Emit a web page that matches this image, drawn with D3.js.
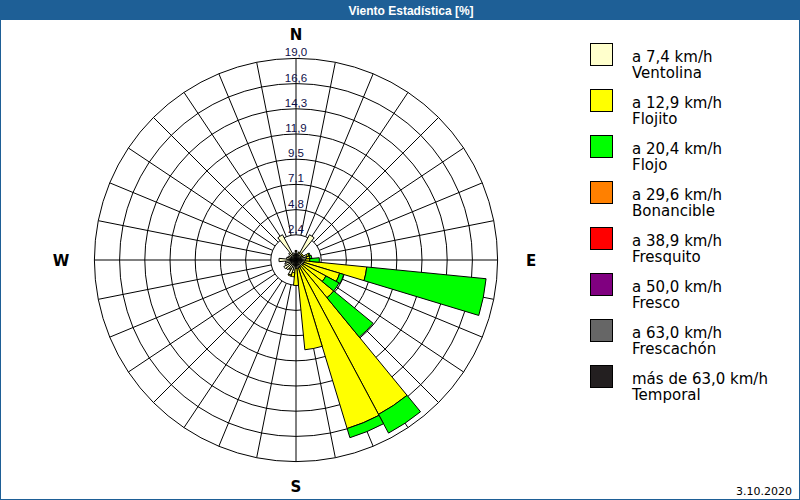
<!DOCTYPE html>
<html><head><meta charset="utf-8">
<script src="https://cdn.jsdelivr.net/npm/d3@7"></script>
<style>body{margin:0;background:#fff}svg{display:block}</style>
</head><body><svg id="c" width="800" height="500"></svg>
<script>
// 32 compass directions, clockwise from North
const directions = ["N","NbE","NNE","NEbN","NE","NEbE","ENE","EbN","E","EbS","ESE","SEbE","SE","SEbS","SSE","SbE",
                    "S","SbW","SSW","SWbS","SW","SWbW","WSW","WbS","W","WbN","WNW","NWbW","NW","NWbN","NNW","NbW"];
// frequency [%] per class and direction
const ventolina  = [0.8,0.6,0.7,2.7,0.7,0.6,1.1,1.0,0.9,0.8,0.8,0.8,0.7,0.8,0.8,0.8, 0.8,1.2,1.5,1.0,1.2,1.3,1.1,1.0,1.6,0.9,0.8,0.7,0.9,2.7,0.7,0.6];
const flojito    = [0.1,0.0,0.1,0.0,0.1,0.2,0.2,0.3,0.4,5.9,3.5,2.4,3.9,15.7,15.8,7.7, 1.6,0.4,0.1,0.1,0.0,0.0,0.0,0.0,0.0,0.0,0.0,0.0,0.0,0.0,0.0,0.0];
const flojo      = [0,0,0,0,0,0,0.1,0.2,0.9,11.3,0.4,1.4,4.8,2.0,0.9,0.0, 0,0,0,0,0,0,0,0,0,0,0,0,0,0,0,0];
const bonancible = new Array(32).fill(0);
const fresquito  = new Array(32).fill(0);
const fresco     = new Array(32).fill(0);
const frescachon = new Array(32).fill(0);
const temporal   = new Array(32).fill(0);

const seriesKeys   = ["ventolina","flojito","flojo","bonancible","fresquito","fresco","frescachon","temporal"];
const seriesValues = [ventolina,flojito,flojo,bonancible,fresquito,fresco,frescachon,temporal];
const seriesRange  = ["a 7,4 km/h","a 12,9 km/h","a 20,4 km/h","a 29,6 km/h","a 38,9 km/h","a 50,0 km/h","a 63,0 km/h","más de 63,0 km/h"];
const seriesNames  = ["Ventolina","Flojito","Flojo","Bonancible","Fresquito","Fresco","Frescachón","Temporal"];
const seriesColors = ["#ffffcc","#ffff00","#00ff00","#ff8000","#ff0000","#800080","#666666","#231f20"];

const ringValues = [2.375,4.75,7.125,9.5,11.875,14.25,16.625,19.0];
const ringLabels = ["2,4","4,8","7,1","9,5","11,9","14,3","16,6","19,0"];
const compass = [{t:"N",a:0},{t:"E",a:90},{t:"S",a:180},{t:"W",a:270}];
const title = "Viento Estadística [%]";
const dateText = "3.10.2020";

const svg = d3.select("#c");
const W = 800, H = 500, cx = 296, cy = 260;
const rScale = d3.scaleLinear().domain([0, 19]).range([0, 201.6]);
const aScale = d3.scaleLinear().domain([0, directions.length]).range([0, 2*Math.PI]);
const half = aScale(1)/2;

// frame
svg.append("rect").attr("x",0).attr("y",0).attr("width",W).attr("height",H).attr("fill","#fff");
svg.append("rect").attr("x",0).attr("y",0).attr("width",W).attr("height",20).attr("fill","#1e5f96");
svg.append("rect").attr("x",0.5).attr("y",0.5).attr("width",W-1).attr("height",H-1)
   .attr("fill","none").attr("stroke","#1e5f96");
svg.append("text").attr("x",411).attr("y",15).attr("text-anchor","middle")
   .attr("font-family","Liberation Sans, Arial, sans-serif").attr("font-weight","bold").attr("font-size",12)
   .attr("fill","#fff").text(title);

const g = svg.append("g").attr("transform",`translate(${cx},${cy})`);

// grid spokes
const r0 = rScale(ringValues[0]), r1 = rScale(ringValues[ringValues.length-1]);
g.append("g").selectAll("line").data(directions).join("line")
  .attr("x1",(d,i)=>r0*Math.sin(aScale(i))).attr("y1",(d,i)=>-r0*Math.cos(aScale(i)))
  .attr("x2",(d,i)=>r1*Math.sin(aScale(i))).attr("y2",(d,i)=>-r1*Math.cos(aScale(i)))
  .attr("stroke","#000").attr("stroke-width",1);
g.append("g").selectAll("circle").data(ringValues).join("circle")
  .attr("r",d=>rScale(d)).attr("fill","none").attr("stroke","#000").attr("stroke-width",1);

// bars
const rows = directions.map((d,i)=>{const o={dir:d,i:i}; seriesKeys.forEach((k,j)=>o[k]=seriesValues[j][i]); return o;});
const stacked = d3.stack().keys(seriesKeys)(rows);
const arc = d3.arc();
stacked.forEach((layer,j)=>{
  g.append("g").selectAll("path").data(layer.filter(s=>s[1]>s[0])).join("path")
   .attr("d",s=>arc({innerRadius:rScale(s[0]),outerRadius:rScale(s[1]),
                     startAngle:aScale(s.data.i)-half,endAngle:aScale(s.data.i)+half}))
   .attr("fill",seriesColors[j]).attr("stroke","#000").attr("stroke-width",1);
});

// ring labels
g.append("g").selectAll("text").data(ringValues).join("text")
  .attr("x",0).attr("y",d=>-rScale(d)-2).attr("text-anchor","middle")
  .attr("font-family","Liberation Sans, Arial, sans-serif").attr("font-size",11.5).attr("fill","#10104a")
  .text((d,i)=>ringLabels[i]);

// compass letters
const rc = 226;
g.append("g").selectAll("text").data(compass).join("text")
  .attr("x",d=>Math.round(rc*Math.sin(d.a*Math.PI/180)*1.04))
  .attr("y",d=>-rc*Math.cos(d.a*Math.PI/180)+6)
  .attr("text-anchor","middle")
  .attr("font-family","DejaVu Sans, sans-serif").attr("font-weight","bold").attr("font-size",15)
  .attr("fill","#000").text(d=>d.t);

// legend
const lg = svg.append("g");
seriesKeys.forEach((k,j)=>{
  const y = 43 + j*46;
  lg.append("rect").attr("x",590.5).attr("y",y+0.5).attr("width",22).attr("height",22)
    .attr("fill",seriesColors[j]).attr("stroke","#000");
  lg.append("text").attr("x",632).attr("y",y+18.5)
    .attr("font-family","DejaVu Sans, sans-serif").attr("font-size",15).attr("fill","#000").text(seriesRange[j]);
  lg.append("text").attr("x",632).attr("y",y+35)
    .attr("font-family","DejaVu Sans, sans-serif").attr("font-size",15).attr("fill","#000").text(seriesNames[j]);
});

svg.append("text").attr("x",792).attr("y",495).attr("text-anchor","end")
  .attr("font-family","DejaVu Sans, sans-serif").attr("font-size",11).attr("fill","#000").text(dateText);
</script></body></html>
